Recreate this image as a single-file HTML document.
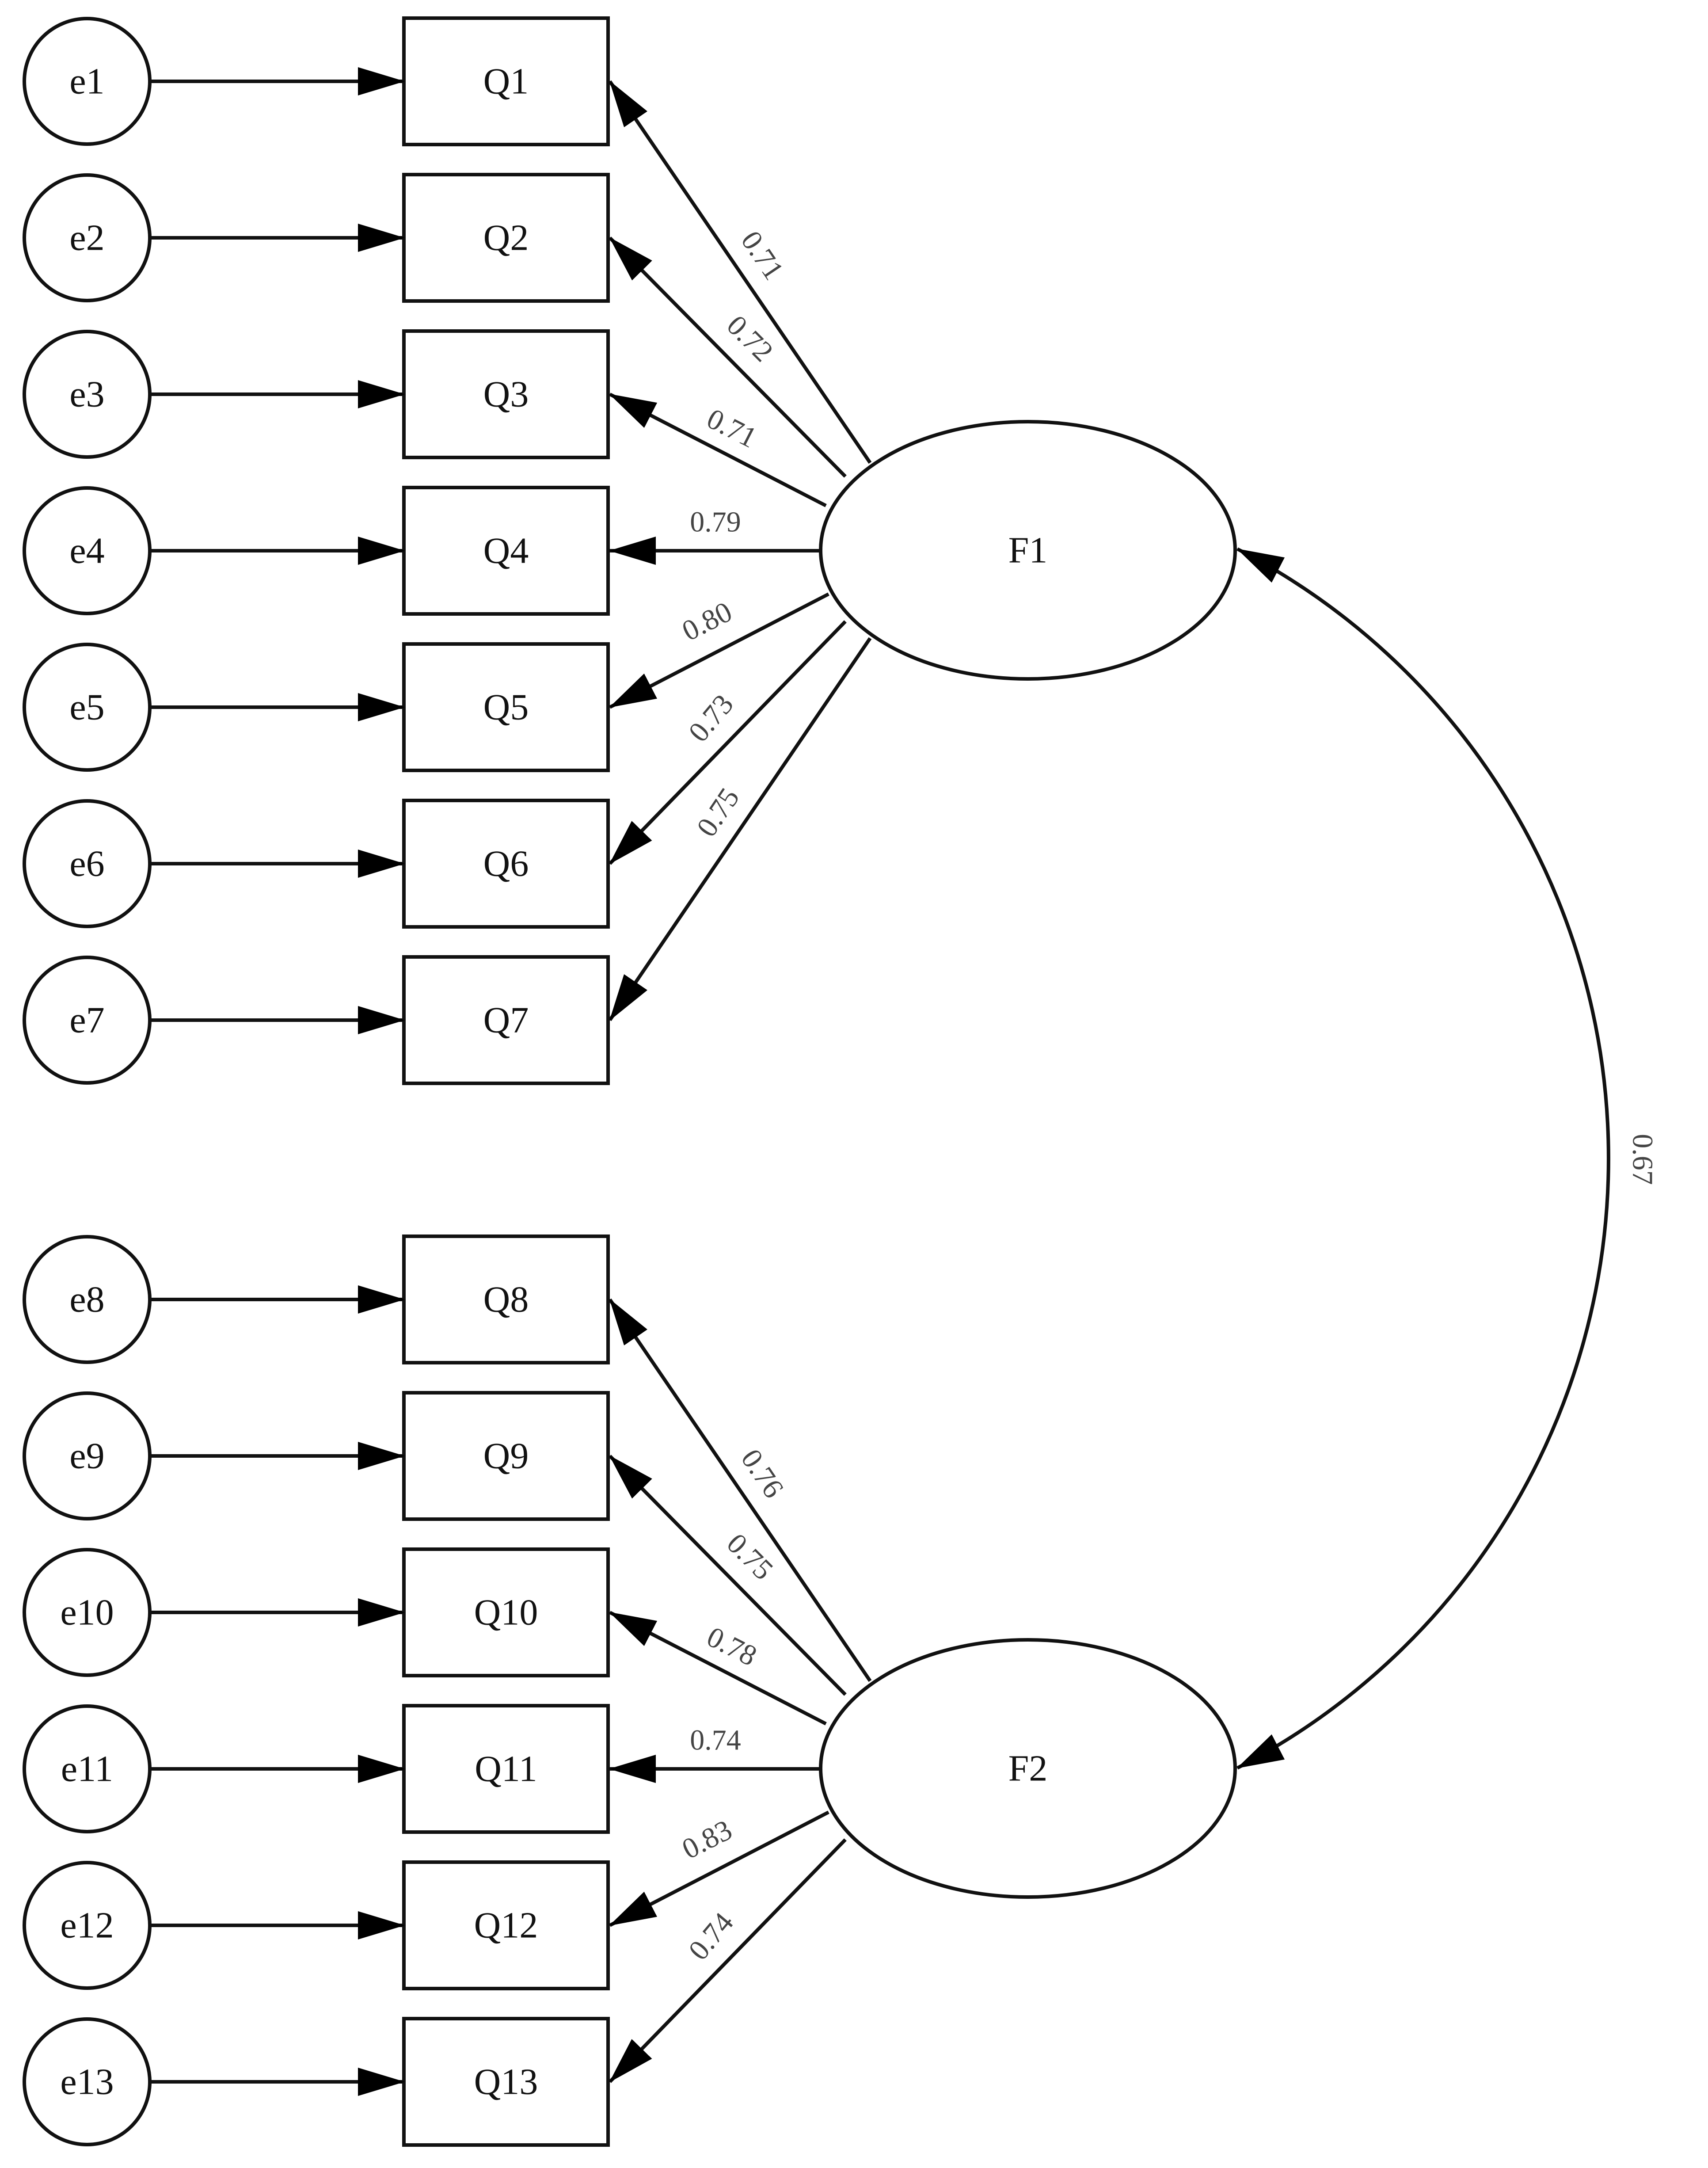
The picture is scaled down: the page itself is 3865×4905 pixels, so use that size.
<!DOCTYPE html>
<html><head><meta charset="utf-8"><style>
html,body{margin:0;padding:0;background:#fff;}
svg{display:block;}
.n{font-family:"Liberation Serif",serif;font-size:84px;fill:#111;text-anchor:middle;dominant-baseline:central;}
.l{font-family:"Liberation Serif",serif;font-size:66px;fill:#444;text-anchor:middle;dominant-baseline:central;}
</style></head><body>
<svg width="3865" height="4905" viewBox="0 0 3865 4905" xmlns="http://www.w3.org/2000/svg">
<defs>
<marker id="a" markerUnits="userSpaceOnUse" markerWidth="110" markerHeight="64" refX="104" refY="32" orient="auto-start-reverse">
<path d="M0,0 L106,32 L0,64 Z" fill="#000"/>
</marker>
</defs>
<g stroke="#111" stroke-width="8" fill="#fff">
<!-- F1 group rows -->
<g id="rows"></g>
</g>
<g stroke="#111" stroke-width="8" fill="none">
<path d="M2800,1242 A1552,1552 0 0 1 2800,4000" marker-start="url(#a)" marker-end="url(#a)"/>
</g>
<text class="l" x="3717" y="2623" transform="rotate(90 3717 2623)">0.67</text>
<!-- generated content -->
<g stroke="#111" stroke-width="8" fill="#fff">
<circle cx="197" cy="184" r="142"/><rect x="914" y="41" width="462" height="286"/>
<circle cx="197" cy="538" r="142"/><rect x="914" y="395" width="462" height="286"/>
<circle cx="197" cy="892" r="142"/><rect x="914" y="749" width="462" height="286"/>
<circle cx="197" cy="1246" r="142"/><rect x="914" y="1103" width="462" height="286"/>
<circle cx="197" cy="1600" r="142"/><rect x="914" y="1457" width="462" height="286"/>
<circle cx="197" cy="1954" r="142"/><rect x="914" y="1811" width="462" height="286"/>
<circle cx="197" cy="2308" r="142"/><rect x="914" y="2165" width="462" height="286"/>
<circle cx="197" cy="2940" r="142"/><rect x="914" y="2797" width="462" height="286"/>
<circle cx="197" cy="3294" r="142"/><rect x="914" y="3151" width="462" height="286"/>
<circle cx="197" cy="3648" r="142"/><rect x="914" y="3505" width="462" height="286"/>
<circle cx="197" cy="4002" r="142"/><rect x="914" y="3859" width="462" height="286"/>
<circle cx="197" cy="4356" r="142"/><rect x="914" y="4213" width="462" height="286"/>
<circle cx="197" cy="4710" r="142"/><rect x="914" y="4567" width="462" height="286"/>
<ellipse cx="2326" cy="1245" rx="469" ry="291"/>
<ellipse cx="2326" cy="4001" rx="469" ry="291"/>
</g>
<g stroke="#111" stroke-width="8" fill="none">
<line x1="339" y1="184" x2="914" y2="184" marker-end="url(#a)"/>
<line x1="339" y1="538" x2="914" y2="538" marker-end="url(#a)"/>
<line x1="339" y1="892" x2="914" y2="892" marker-end="url(#a)"/>
<line x1="339" y1="1246" x2="914" y2="1246" marker-end="url(#a)"/>
<line x1="339" y1="1600" x2="914" y2="1600" marker-end="url(#a)"/>
<line x1="339" y1="1954" x2="914" y2="1954" marker-end="url(#a)"/>
<line x1="339" y1="2308" x2="914" y2="2308" marker-end="url(#a)"/>
<line x1="339" y1="2940" x2="914" y2="2940" marker-end="url(#a)"/>
<line x1="339" y1="3294" x2="914" y2="3294" marker-end="url(#a)"/>
<line x1="339" y1="3648" x2="914" y2="3648" marker-end="url(#a)"/>
<line x1="339" y1="4002" x2="914" y2="4002" marker-end="url(#a)"/>
<line x1="339" y1="4356" x2="914" y2="4356" marker-end="url(#a)"/>
<line x1="339" y1="4710" x2="914" y2="4710" marker-end="url(#a)"/>
<!-- F1 loadings -->
<line x1="1969" y1="1047" x2="1380" y2="184" marker-end="url(#a)"/>
<line x1="1913" y1="1078" x2="1380" y2="538" marker-end="url(#a)"/>
<line x1="1869" y1="1144" x2="1380" y2="892" marker-end="url(#a)"/>
<line x1="1857" y1="1246" x2="1380" y2="1246" marker-end="url(#a)"/>
<line x1="1875" y1="1344" x2="1380" y2="1600" marker-end="url(#a)"/>
<line x1="1913" y1="1406" x2="1380" y2="1954" marker-end="url(#a)"/>
<line x1="1969" y1="1444" x2="1380" y2="2308" marker-end="url(#a)"/>
<!-- F2 loadings -->
<line x1="1969" y1="3803" x2="1380" y2="2940" marker-end="url(#a)"/>
<line x1="1913" y1="3834" x2="1380" y2="3294" marker-end="url(#a)"/>
<line x1="1869" y1="3900" x2="1380" y2="3648" marker-end="url(#a)"/>
<line x1="1857" y1="4002" x2="1380" y2="4002" marker-end="url(#a)"/>
<line x1="1875" y1="4100" x2="1380" y2="4356" marker-end="url(#a)"/>
<line x1="1913" y1="4162" x2="1380" y2="4710" marker-end="url(#a)"/>
</g>
<g class="n">
<text class="n" x="197" y="184">e1</text><text class="n" x="1145" y="184">Q1</text>
<text class="n" x="197" y="538">e2</text><text class="n" x="1145" y="538">Q2</text>
<text class="n" x="197" y="892">e3</text><text class="n" x="1145" y="892">Q3</text>
<text class="n" x="197" y="1246">e4</text><text class="n" x="1145" y="1246">Q4</text>
<text class="n" x="197" y="1600">e5</text><text class="n" x="1145" y="1600">Q5</text>
<text class="n" x="197" y="1954">e6</text><text class="n" x="1145" y="1954">Q6</text>
<text class="n" x="197" y="2308">e7</text><text class="n" x="1145" y="2308">Q7</text>
<text class="n" x="197" y="2940">e8</text><text class="n" x="1145" y="2940">Q8</text>
<text class="n" x="197" y="3294">e9</text><text class="n" x="1145" y="3294">Q9</text>
<text class="n" x="197" y="3648">e10</text><text class="n" x="1145" y="3648">Q10</text>
<text class="n" x="197" y="4002">e11</text><text class="n" x="1145" y="4002">Q11</text>
<text class="n" x="197" y="4356">e12</text><text class="n" x="1145" y="4356">Q12</text>
<text class="n" x="197" y="4710">e13</text><text class="n" x="1145" y="4710">Q13</text>
<text class="n" x="2326" y="1245">F1</text>
<text class="n" x="2326" y="4001">F2</text>
</g>
<text class="l" x="1725" y="578" transform="rotate(56 1725 578)">0.71</text>
<text class="l" x="1697" y="766" transform="rotate(45 1697 766)">0.72</text>
<text class="l" x="1656" y="969" transform="rotate(27 1656 969)">0.71</text>
<text class="l" x="1619" y="1181">0.79</text>
<text class="l" x="1600" y="1406" transform="rotate(-27 1600 1406)">0.80</text>
<text class="l" x="1609" y="1625" transform="rotate(-50 1609 1625)">0.73</text>
<text class="l" x="1625" y="1838" transform="rotate(-56 1625 1838)">0.75</text>
<text class="l" x="1725" y="3334" transform="rotate(56 1725 3334)">0.76</text>
<text class="l" x="1697" y="3522" transform="rotate(45 1697 3522)">0.75</text>
<text class="l" x="1656" y="3725" transform="rotate(27 1656 3725)">0.78</text>
<text class="l" x="1619" y="3937">0.74</text>
<text class="l" x="1600" y="4162" transform="rotate(-27 1600 4162)">0.83</text>
<text class="l" x="1609" y="4381" transform="rotate(-50 1609 4381)">0.74</text>
</svg>
</body></html>
